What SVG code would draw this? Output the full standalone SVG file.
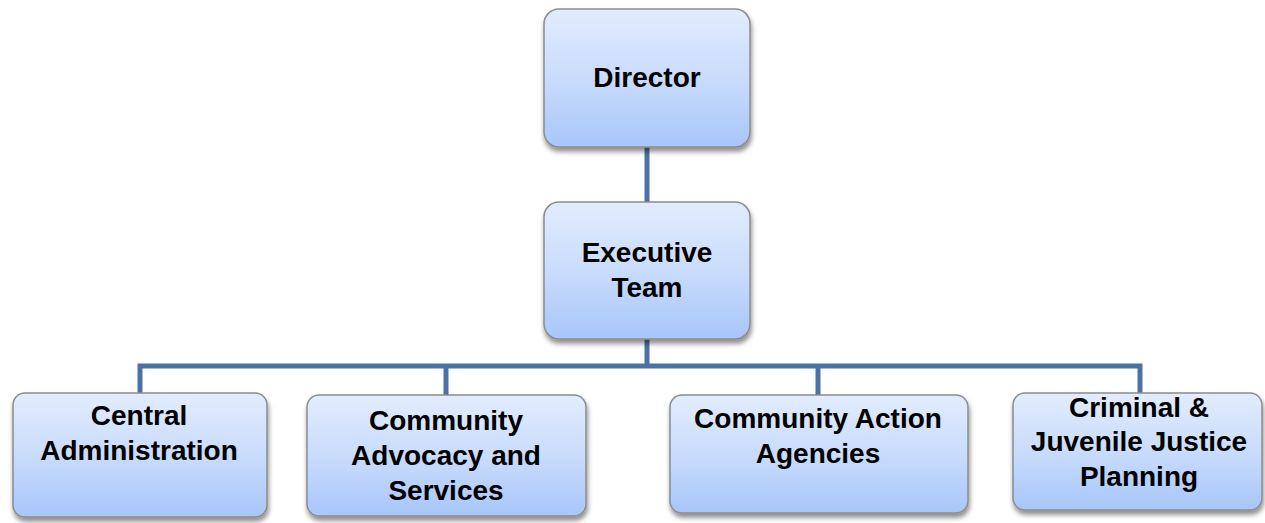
<svg xmlns="http://www.w3.org/2000/svg" width="1265" height="523" viewBox="0 0 1265 523">
<defs>
<linearGradient id="g" x1="0" y1="0" x2="0" y2="1">
<stop offset="0" stop-color="#e2ecfd"/>
<stop offset="0.5" stop-color="#c9dcfc"/>
<stop offset="1" stop-color="#a7c6fa"/>
</linearGradient>
<filter id="sh" x="-10%" y="-10%" width="120%" height="130%">
<feGaussianBlur in="SourceAlpha" stdDeviation="2.5"/>
<feOffset dx="1" dy="4" result="b"/>
<feComponentTransfer><feFuncA type="linear" slope="0.45"/></feComponentTransfer>
<feMerge><feMergeNode/><feMergeNode in="SourceGraphic"/></feMerge>
</filter>
</defs>
<style>
.box{fill:url(#g);stroke:#8c8c8c;stroke-width:1.5;filter:url(#sh)}
.t{font-family:"Liberation Sans",Arial,sans-serif;font-weight:bold;font-size:28px;fill:#000;text-anchor:middle}
.c{fill:none;stroke:#4a72a8;stroke-width:5}
</style>
<rect width="1265" height="523" fill="#fff"/>
<g id="connectors">
<path class="c" d="M647 147 V202"/>
<path class="c" d="M647 339 V366"/>
<path class="c" d="M140 393 V366 H1140 V393"/>
<path class="c" d="M446 366 V395"/>
<path class="c" d="M818 366 V395"/>
</g>
<g id="director">
<rect class="box" x="544" y="9" width="206" height="138" rx="15"/>
<text class="t" x="647" y="87">Director</text>
</g>
<g id="executive-team">
<rect class="box" x="544" y="202" width="206" height="137" rx="15"/>
<text class="t" x="647" y="262">Executive</text>
<text class="t" x="647" y="297">Team</text>
</g>
<g id="central-administration">
<rect class="box" x="13" y="393" width="254" height="124" rx="12"/>
<text class="t" x="139" y="425">Central</text>
<text class="t" x="139" y="460">Administration</text>
</g>
<g id="community-advocacy">
<rect class="box" x="307" y="395" width="279" height="121" rx="12"/>
<text class="t" x="446" y="430">Community</text>
<text class="t" x="446" y="465">Advocacy and</text>
<text class="t" x="446" y="500">Services</text>
</g>
<g id="community-action">
<rect class="box" x="670" y="395" width="298" height="118" rx="12"/>
<text class="t" x="818" y="428">Community Action</text>
<text class="t" x="818" y="463">Agencies</text>
</g>
<g id="criminal-juvenile">
<rect class="box" x="1013" y="393" width="249" height="117" rx="12"/>
<text class="t" x="1139" y="417">Criminal &amp;</text>
<text class="t" x="1139" y="451">Juvenile Justice</text>
<text class="t" x="1139" y="486">Planning</text>
</g>
</svg>
